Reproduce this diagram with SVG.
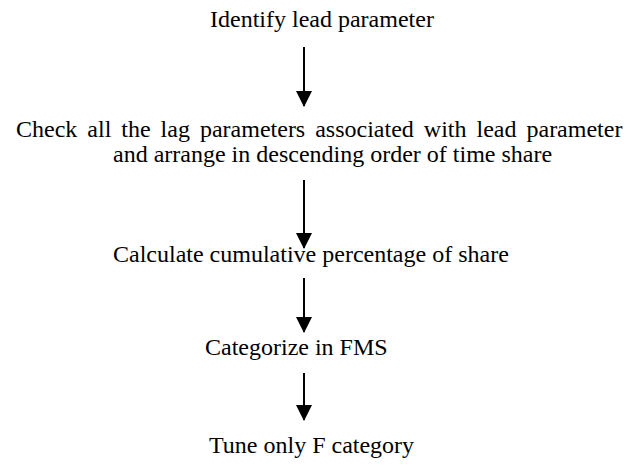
<svg xmlns="http://www.w3.org/2000/svg" width="633" height="469" viewBox="0 0 633 469">
<style>
.t{font-family:"Liberation Serif","Times New Roman",serif;font-size:24px;fill:#000}
.c{stroke:#000;stroke-width:2;fill:none}
</style>
<defs>
<marker id="ah" markerUnits="userSpaceOnUse" markerWidth="16" markerHeight="18" refX="15" refY="8" orient="auto" viewBox="0 0 16 16">
<path d="M0,0 L16,8 L0,16 Z" fill="#000"/>
</marker>
</defs>
<rect width="633" height="469" fill="#fff"/>
<g id="connectors">
<line class="c" x1="304" y1="47" x2="304" y2="106" marker-end="url(#ah)"/>
<line class="c" x1="304" y1="180" x2="304" y2="248" marker-end="url(#ah)"/>
<line class="c" x1="304" y1="278" x2="304" y2="332" marker-end="url(#ah)"/>
<line class="c" x1="304" y1="373" x2="304" y2="420" marker-end="url(#ah)"/>
</g>
<g id="n1"><text class="t" x="210" y="27">Identify lead parameter</text></g>
<g id="n2">
<text class="t" x="16" y="137" word-spacing="4">Check all the lag parameters associated with lead parameter</text>
<text class="t" x="113" y="162">and arrange in descending order of time share</text>
</g>
<g id="n3"><text class="t" x="113" y="262">Calculate cumulative percentage of share</text></g>
<g id="n4"><text class="t" x="205" y="355">Categorize in FMS</text></g>
<g id="n5"><text class="t" x="209" y="453">Tune only F category</text></g>
</svg>
